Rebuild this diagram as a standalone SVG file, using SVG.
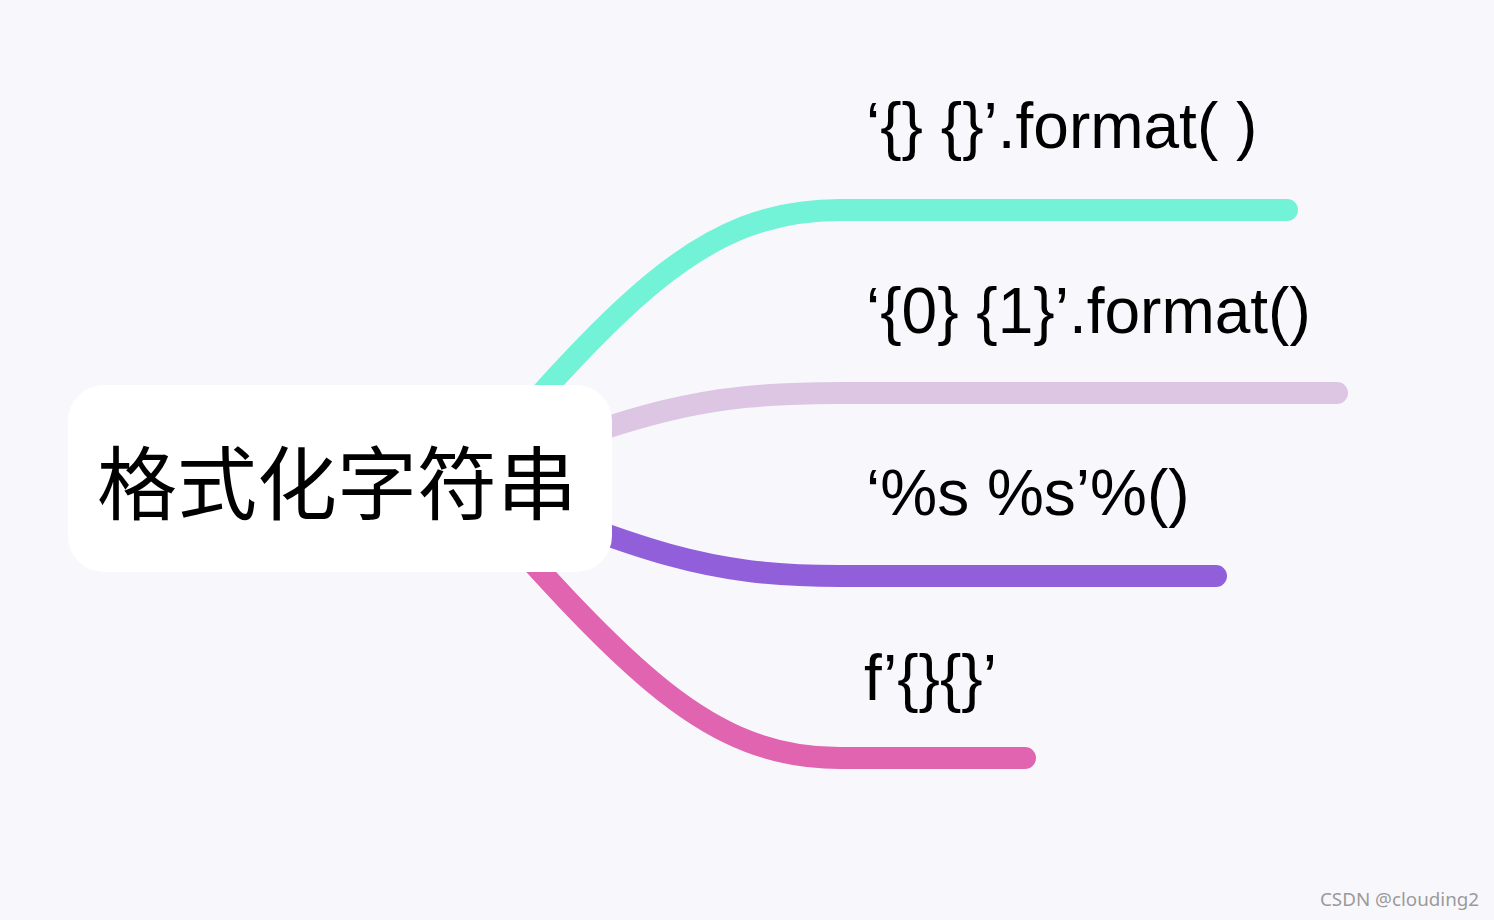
<svg xmlns="http://www.w3.org/2000/svg" width="1494" height="920" viewBox="0 0 1494 920">
<style>
.br{fill:none;stroke-width:22;stroke-linecap:round;stroke-linejoin:round}
.lbl{font-family:"Liberation Sans",Arial,sans-serif;font-size:64px;fill:#000}
.root{font-family:"Noto Sans CJK SC","Noto Sans",sans-serif;font-size:80px;fill:#000}
.wm{font-family:"Noto Sans","Open Sans",sans-serif;font-size:18.8px;fill:#9a9a9a}
</style>
<rect x="0" y="0" width="1494" height="920" fill="#f8f8fc"/>
<g id="connectors">
<path class="br" stroke="#72f2d6" d="M 440 510 C 620 300, 700 210, 840 210 L 1287 210"/>
<path class="br" stroke="#dcc6e4" d="M 440 490 C 640 410, 700 393, 840 393 L 1337 393"/>
<path class="br" stroke="#925fdb" d="M 440 470 C 640 550, 700 576, 840 576 L 1216 576"/>
<path class="br" stroke="#e064b0" d="M 440 460 C 620 660, 700 758, 840 758 L 1025 758"/>
</g>
<g id="root">
<rect x="68" y="385" width="544" height="187" rx="36" ry="36" fill="#ffffff"/>
<text class="root" x="97" y="513">格式化字符串</text>
</g>
<g id="n1"><text class="lbl" x="866" y="148">‘{} {}’.format( )</text></g>
<g id="n2"><text class="lbl" x="866" y="333">‘{0} {1}’.format()</text></g>
<g id="n3"><text class="lbl" x="866" y="515">‘%s %s’%()</text></g>
<g id="n4"><text class="lbl" x="864" y="700">f’{}{}’</text></g>
<text class="wm" x="1320" y="906">CSDN @clouding2</text>
</svg>
